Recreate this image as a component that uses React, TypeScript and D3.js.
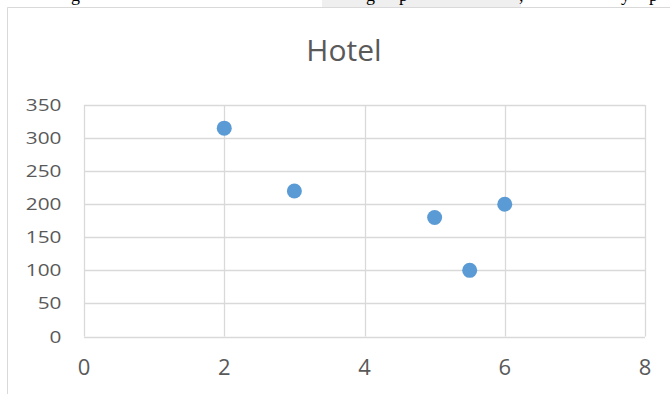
import { useEffect, useRef } from 'react'
import * as d3 from 'd3'

// scatter data
const xValues = [2, 3, 5, 5.5, 6]
const yValues = [315, 220, 180, 100, 200]
const xTicks = [0, 2, 4, 6, 8]
const yTicks = [0, 50, 100, 150, 200, 250, 300, 350]
const title = 'Hotel'

const App = () => {
	const svgRef = useRef(null)

	useEffect(() => {
		const W = 670
		const H = 394
		const plot = { left: 84, right: 645, top: 105, bottom: 336.5 }

		const svg = d3.select(svgRef.current)
		svg.selectAll('*').remove()
		svg.attr('width', W).attr('height', H)

		svg.append('rect').attr('width', W).attr('height', H).attr('fill', '#ffffff')

		// bit of the document text above the chart (only the descenders show)
		svg.append('rect').attr('x', 322).attr('y', 0).attr('width', 199).attr('height', 7).attr('fill', '#efefef')
		const docBits = [
			{ x: 71, t: 'g' },
			{ x: 366, t: 'g' },
			{ x: 399, t: 'p' },
			{ x: 519, t: ',' },
			{ x: 621, t: 'y' },
			{ x: 649, t: 'p' },
		]
		svg
			.selectAll('text.doc')
			.data(docBits)
			.enter()
			.append('text')
			.attr('class', 'doc')
			.attr('x', (d) => d.x)
			.attr('y', 1)
			.style('font-family', '"Liberation Serif", serif')
			.style('font-size', '18px')
			.style('fill', '#000')
			.text((d) => d.t)

		// chart frame
		svg
			.append('path')
			.attr('d', `M7.5,${H + 2}V7.5H${W + 2}`)
			.attr('fill', 'none')
			.attr('stroke', '#d9d9d9')
			.attr('stroke-width', 1)

		const x = d3.scaleLinear().domain([0, 8]).range([plot.left, plot.right])
		const y = d3.scaleLinear().domain([0, 350]).range([plot.bottom, plot.top])

		// grid lines
		svg
			.selectAll('line.hgrid')
			.data(yTicks)
			.enter()
			.append('line')
			.attr('x1', plot.left)
			.attr('x2', plot.right)
			.attr('y1', (d) => Math.round(y(d)) + 0.5)
			.attr('y2', (d) => Math.round(y(d)) + 0.5)
			.attr('stroke', '#d9d9d9')
			.attr('stroke-width', 1.3)

		svg
			.selectAll('line.vgrid')
			.data(xTicks)
			.enter()
			.append('line')
			.attr('x1', (d) => Math.round(x(d)) + 0.5)
			.attr('x2', (d) => Math.round(x(d)) + 0.5)
			.attr('y1', plot.top)
			.attr('y2', plot.bottom)
			.attr('stroke', '#d9d9d9')
			.attr('stroke-width', 1.3)

		// y labels (wide digits in the picture, so stretch them a bit)
		svg
			.selectAll('g.ylab')
			.data(yTicks)
			.enter()
			.append('g')
			.attr('transform', (d) => `translate(61.5,${y(d) + 6})scale(1.3,1)`)
			.append('text')
			.attr('text-anchor', 'end')
			.style('font-family', '"Open Sans", sans-serif')
			.style('font-size', '16px')
			.style('fill', '#595959')
			.text((d) => d)

		// x labels
		svg
			.selectAll('text.xlab')
			.data(xTicks)
			.enter()
			.append('text')
			.attr('x', (d) => x(d))
			.attr('y', 375)
			.attr('text-anchor', 'middle')
			.style('font-family', '"Open Sans", sans-serif')
			.style('font-size', '22px')
			.style('fill', '#595959')
			.text((d) => d)

		// title
		svg
			.append('text')
			.attr('x', 344)
			.attr('y', 61)
			.attr('text-anchor', 'middle')
			.style('font-family', '"Open Sans", sans-serif')
			.style('font-size', '30px')
			.style('fill', '#595959')
			.text(title)

		// points
		svg
			.selectAll('circle.pt')
			.data(xValues.map((v, i) => [v, yValues[i]]))
			.enter()
			.append('circle')
			.attr('cx', (d) => x(d[0]))
			.attr('cy', (d) => y(d[1]))
			.attr('r', 7.5)
			.attr('fill', '#5b9bd5')
	}, [])

	return <svg ref={svgRef} style={{ position: 'absolute', left: 0, top: 0, display: 'block' }}></svg>
}

export default App
